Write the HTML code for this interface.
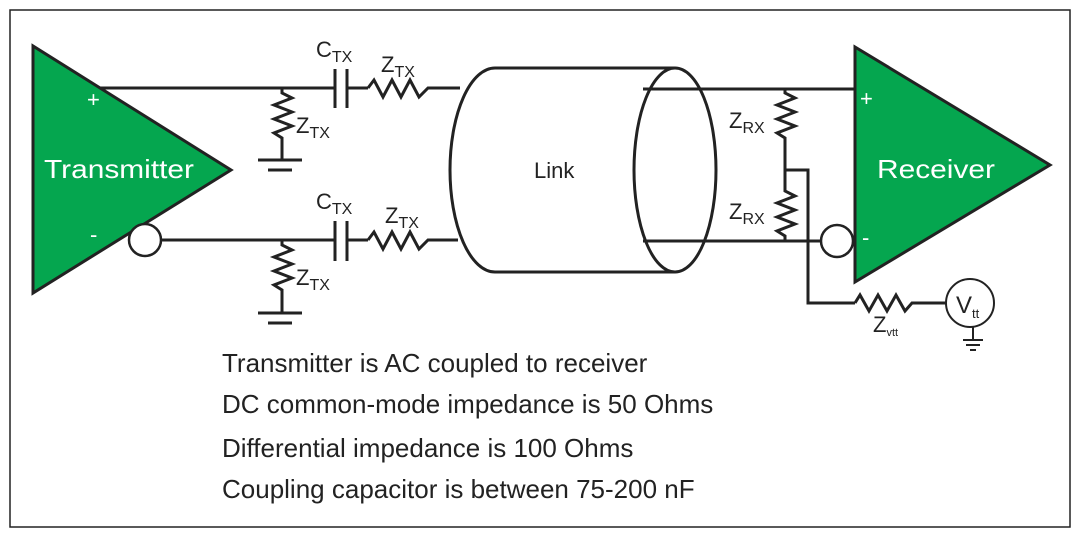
<!DOCTYPE html>
<html><head><meta charset="utf-8"><style>
html,body{margin:0;padding:0;background:#fff;width:1080px;height:535px;overflow:hidden}
svg{display:block;font-family:"Liberation Sans",Arial,sans-serif}
</style></head><body>
<svg width="1080" height="535" viewBox="0 0 1080 535">
<rect x="10" y="10" width="1060" height="517" fill="#fff" stroke="#222" stroke-width="1.5"/>
<g fill="none" stroke="#222" stroke-width="3">
<polygon points="33,46 33,293 231,170" fill="#05a64f"/>
<line x1="100" y1="88" x2="460" y2="88"/>
<line x1="161" y1="240" x2="458" y2="240"/>
<circle cx="145" cy="240" r="16" fill="#fff" stroke-width="2.5"/>
<polyline points="282,88 282,93 292,98 274,105 292,112 274,119 292,126 274,133 282,138 282,160"/>
<line x1="258" y1="160" x2="302" y2="160"/><line x1="268" y1="170" x2="292" y2="170"/>
<polyline points="282,240 282,245 292,250 274,257 292,264 274,271 292,278 274,285 282,290 282,313"/>
<line x1="258" y1="313" x2="302" y2="313"/><line x1="268" y1="323" x2="292" y2="323"/>
<rect x="335" y="70" width="12" height="38" fill="#fff" stroke="none"/>
<line x1="335" y1="69" x2="335" y2="108"/><line x1="347" y1="69" x2="347" y2="108"/>
<rect x="335" y="220" width="12" height="40" fill="#fff" stroke="none"/>
<line x1="335" y1="221" x2="335" y2="261"/><line x1="347" y1="221" x2="347" y2="261"/>
<rect x="368" y="78" width="62" height="20" fill="#fff" stroke="none"/>
<polyline points="368,88 374,80 383,97 392,80 401,97 410,80 419,97 428,88 430,88"/>
<rect x="368" y="230" width="62" height="20" fill="#fff" stroke="none"/>
<polyline points="368,240 374,232 383,249 392,232 401,249 410,232 419,249 428,240 430,240"/>
<path d="M495,68 L675,68 M495,272 L675,272 M495,68 A45,102 0 0 0 495,272"/>
<ellipse cx="675" cy="170" rx="41" ry="102"/>
<line x1="643" y1="89" x2="856" y2="89"/>
<line x1="643" y1="241" x2="821" y2="241"/>
<polyline points="785,89 785,93 795,98 777,105 795,112 777,119 795,126 777,133 785,138 785,187"/>
<polyline points="785,187 785,191 795,196 777,203 795,210 777,217 795,224 777,231 785,236 785,241"/>
<polyline points="785,170 808,170 808,303 855,303"/>
<polyline points="855,303 860,295 869,311 878,295 887,311 896,295 905,311 912,303 946,303"/>
<polygon points="855,47 855,282 1050,165" fill="#05a64f"/>
<circle cx="837" cy="241" r="16" fill="#fff" stroke-width="2.5"/>
<circle cx="970" cy="303" r="24" fill="#fff" stroke-width="2"/>
<line x1="973" y1="327" x2="973" y2="340" stroke-width="2"/>
<line x1="963" y1="340" x2="983" y2="340" stroke-width="2"/><line x1="966" y1="345" x2="980" y2="345" stroke-width="2"/><line x1="970" y1="350" x2="976" y2="350" stroke-width="2"/>
</g>
<g fill="#fff" font-size="26">
<text x="44" y="178" textLength="150" lengthAdjust="spacingAndGlyphs">Transmitter</text>
<text x="877" y="178" textLength="118" lengthAdjust="spacingAndGlyphs">Receiver</text>
<text x="87" y="107" font-size="22">+</text>
<text x="90" y="242" font-size="22">-</text>
<text x="860" y="106" font-size="22">+</text>
<text x="862" y="245" font-size="22">-</text>
</g>
<g fill="#222" font-size="22">
<text x="316" y="57">C<tspan font-size="16" dy="5">TX</tspan></text>
<text x="381" y="72">Z<tspan font-size="16" dy="5">TX</tspan></text>
<text x="296" y="133">Z<tspan font-size="16" dy="5">TX</tspan></text>
<text x="316" y="209">C<tspan font-size="16" dy="5">TX</tspan></text>
<text x="385" y="223">Z<tspan font-size="16" dy="5">TX</tspan></text>
<text x="296" y="285">Z<tspan font-size="16" dy="5">TX</tspan></text>
<text x="729" y="128">Z<tspan font-size="16" dy="5">RX</tspan></text>
<text x="729" y="219">Z<tspan font-size="16" dy="5">RX</tspan></text>
<text x="873" y="332">Z<tspan font-size="11" dy="4">vtt</tspan></text>
<text x="956" y="313" font-size="24">V<tspan font-size="13" dy="5">tt</tspan></text>
<text x="534" y="178">Link</text>
</g>
<g fill="#222" font-size="26">
<text x="222" y="372">Transmitter is AC coupled to receiver</text>
<text x="222" y="413">DC common-mode impedance is 50 Ohms</text>
<text x="222" y="457">Differential impedance is 100 Ohms</text>
<text x="222" y="498">Coupling capacitor is between 75-200 nF</text>
</g>
</svg>
</body></html>
